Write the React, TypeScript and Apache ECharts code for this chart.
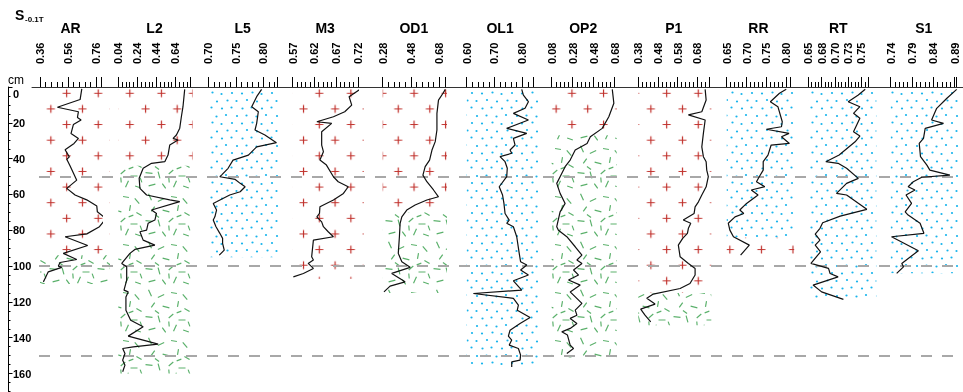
import React, { useEffect, useRef } from "react";
import * as echarts from "echarts";

// ---------- DATA ----------
const PANEL_NAMES = ["AR", "L2", "L5", "M3", "OD1", "OL1", "OP2", "P1", "RR", "RT", "S1"];

// axis ranges [min, max] and tick labels
const AR_RANGE = [0.36, 0.795];
const L2_RANGE = [0.04, 0.8];
const L5_RANGE = [0.7, 0.825];
const M3_RANGE = [0.57, 0.72];
const OD1_RANGE = [0.28, 0.72];
const OL1_RANGE = [0.6, 0.84];
const OP2_RANGE = [0.08, 0.68];
const P1_RANGE = [0.38, 0.74];
const RR_RANGE = [0.65, 0.81];
const RT_RANGE = [0.65, 0.7628];
const S1_RANGE = [0.74, 0.895];

const AR_TICKS = [0.36, 0.56, 0.76];
const L2_TICKS = [0.04, 0.24, 0.44, 0.64];
const L5_TICKS = [0.7, 0.75, 0.8];
const M3_TICKS = [0.57, 0.62, 0.67, 0.72];
const OD1_TICKS = [0.28, 0.48, 0.68];
const OL1_TICKS = [0.6, 0.7, 0.8];
const OP2_TICKS = [0.08, 0.28, 0.48, 0.68];
const P1_TICKS = [0.38, 0.48, 0.58, 0.68];
const RR_TICKS = [0.65, 0.7, 0.75, 0.8];
const RT_TICKS = [0.65, 0.675, 0.7, 0.725, 0.75];
const S1_TICKS = [0.74, 0.79, 0.84, 0.89];

const MINOR_STEPS = [0.04, 0.04, 0.01, 0.01, 0.04, 0.02, 0.04, 0.02, 0.01, 0.00625, 0.01];

const DEPTH_MAX = 170;
const DEPTH_TICKS = [0, 20, 40, 60, 80, 100, 120, 140, 160];
const DEPTH_MINOR_STEP = 5;
const DASHED_DEPTHS = [50, 100, 150];

// [depth (cm), value]
const AR_DATA = [[1, 0.658], [7, 0.646], [11.3, 0.484], [13.8, 0.634], [17, 0.627], [18.4, 0.653], [21, 0.598], [26, 0.581], [28.7, 0.634], [31.5, 0.603], [35, 0.539], [39, 0.569], [40.4, 0.551], [44, 0.574], [52, 0.622], [56.6, 0.551], [60.3, 0.61], [63, 0.693], [66.5, 0.765], [69.7, 0.769], [73.4, 0.831], [78, 0.784], [82, 0.694], [83.6, 0.539], [88.5, 0.7], [92.9, 0.526], [96.3, 0.622], [98, 0.503], [100, 0.491], [100.7, 0.515], [103.2, 0.419], [106.9, 0.396], [108.8, 0.384]];
const L2_DATA = [[1.3, 0.737], [11, 0.719], [16.6, 0.702], [23, 0.685], [26.8, 0.65], [28.7, 0.615], [29.6, 0.667], [32.4, 0.58], [38, 0.562], [41.7, 0.528], [42.6, 0.389], [45.4, 0.301], [51, 0.259], [56.6, 0.267], [60.3, 0.337], [63, 0.58], [64, 0.685], [68.7, 0.389], [70.6, 0.441], [74.3, 0.424], [76.1, 0.353], [79.9, 0.337], [80.8, 0.267], [85.5, 0.301], [88.3, 0.424], [90.7, 0.214], [92.9, 0.162], [98.5, 0.076], [100.4, 0.128], [107.8, 0.128], [113.4, 0.1], [114.4, 0.144], [117.2, 0.12], [124.6, 0.12], [130.2, 0.17], [133.9, 0.301], [139.1, 0.144], [143.6, 0.458], [145.1, 0.197], [146, 0.086], [148.8, 0.11], [152.5, 0.086], [155.3, 0.11], [159, 0.086]];
const L5_DATA = [[1.3, 0.797], [5.4, 0.788], [11, 0.779], [13.8, 0.791], [20.3, 0.788], [24, 0.785], [26.8, 0.803], [31.1, 0.824], [33.4, 0.788], [38, 0.773], [40.8, 0.745], [45.4, 0.736], [49.2, 0.724], [50.1, 0.721], [51.6, 0.749], [53.8, 0.758], [55.7, 0.767], [58.5, 0.758], [60.3, 0.739], [64.1, 0.715], [65, 0.709], [68.7, 0.715], [72.5, 0.712], [74.3, 0.709], [78, 0.714], [81.7, 0.721], [84.5, 0.726], [87.3, 0.726], [91.1, 0.729], [93.9, 0.72]];
const M3_DATA = [[1.3, 0.725], [5.4, 0.7], [10.1, 0.706], [13.8, 0.69], [16.6, 0.664], [19.4, 0.626], [20.3, 0.66], [25, 0.637], [32.4, 0.637], [36.1, 0.641], [40.8, 0.633], [43.6, 0.648], [50.1, 0.664], [52.9, 0.675], [55.7, 0.698], [59.4, 0.687], [63.1, 0.664], [66.9, 0.633], [70.6, 0.632], [72.5, 0.626], [75.3, 0.637], [78, 0.641], [80.8, 0.652], [83.6, 0.664], [85.5, 0.618], [94.8, 0.614], [96.6, 0.618], [98.5, 0.606], [101.3, 0.618], [104.1, 0.595], [106, 0.572]];
const OD1_DATA = [[1.3, 0.722], [3.5, 0.706], [7.3, 0.674], [14.7, 0.663], [24, 0.663], [30.5, 0.651], [35.2, 0.628], [40.8, 0.611], [44.5, 0.58], [49.2, 0.564], [52.9, 0.592], [57.5, 0.639], [61.3, 0.674], [63.1, 0.592], [65.9, 0.509], [68.7, 0.45], [72.5, 0.415], [76.1, 0.403], [83.6, 0.398], [92.9, 0.39], [97.6, 0.415], [100.7, 0.474], [104.1, 0.344], [108.8, 0.438], [111.2, 0.332], [114.4, 0.289]];
const OL1_DATA = [[1.3, 0.798], [4.5, 0.804], [8.2, 0.822], [11.9, 0.81], [14.7, 0.768], [18.4, 0.822], [23.1, 0.744], [25.9, 0.816], [28.7, 0.768], [32.4, 0.774], [35.2, 0.756], [37, 0.762], [38.9, 0.72], [41.7, 0.738], [45.4, 0.746], [50.1, 0.744], [55.7, 0.717], [60.3, 0.729], [65, 0.734], [70.6, 0.738], [74.3, 0.753], [76.1, 0.744], [78, 0.768], [83.6, 0.78], [92.9, 0.789], [97.6, 0.794], [99.4, 0.816], [102.2, 0.794], [105, 0.822], [108.2, 0.768], [113.4, 0.798], [115.3, 0.624], [118, 0.768], [121.8, 0.786], [124.6, 0.782], [128.7, 0.828], [132, 0.792], [135.8, 0.756], [139.1, 0.75], [141.3, 0.762], [144.1, 0.753], [146, 0.786], [149.7, 0.794], [152.5, 0.792], [153.5, 0.762], [156.3, 0.762]];
const OP2_DATA = [[1.3, 0.657], [9.1, 0.672], [16.6, 0.624], [23.1, 0.561], [27.8, 0.448], [31.5, 0.417], [35.2, 0.304], [40.8, 0.256], [44.5, 0.208], [50.1, 0.16], [53.8, 0.128], [59.4, 0.16], [65, 0.208], [69.7, 0.16], [78, 0.128], [80, 0.144], [83.6, 0.224], [89.2, 0.304], [93.9, 0.368], [96.6, 0.32], [98.5, 0.368], [102.2, 0.288], [105, 0.336], [107.8, 0.24], [110.6, 0.352], [114.4, 0.256], [120.8, 0.368], [124.6, 0.304], [127.4, 0.32], [129.2, 0.256], [132, 0.32], [134.8, 0.256], [136.7, 0.176], [138.5, 0.23], [144.1, 0.256], [146, 0.288], [148.8, 0.224]];
const P1_DATA = [[1.3, 0.719], [7.3, 0.724], [13.8, 0.702], [15.6, 0.634], [18.4, 0.719], [25.9, 0.71], [33.4, 0.702], [38.9, 0.71], [41.7, 0.724], [46.4, 0.727], [50.1, 0.735], [55.7, 0.724], [60.3, 0.702], [64.1, 0.685], [66.9, 0.668], [70.6, 0.663], [74.3, 0.608], [76.1, 0.646], [78.9, 0.634], [81.7, 0.629], [84.5, 0.605], [88.3, 0.583], [94.8, 0.592], [98.5, 0.634], [101.3, 0.668], [105, 0.668], [109.7, 0.642], [112.5, 0.592], [115.6, 0.456], [118, 0.423], [121.2, 0.465], [124, 0.392], [127.4, 0.414], [131.1, 0.443]];
const RR_DATA = [[1.3, 0.8], [3.5, 0.783], [8.2, 0.76], [11, 0.779], [19.4, 0.79], [22.2, 0.788], [23.6, 0.75], [25.9, 0.807], [27.8, 0.788], [31.5, 0.808], [32.4, 0.762], [38, 0.754], [41.7, 0.742], [46.4, 0.742], [50.1, 0.732], [52.9, 0.725], [55.7, 0.746], [57.5, 0.712], [60.3, 0.729], [65, 0.7], [68.7, 0.683], [70.6, 0.693], [72.5, 0.671], [76.1, 0.654], [79.9, 0.658], [83.6, 0.667], [88.3, 0.707], [93.9, 0.685]];
const RT_DATA = [[1.3, 0.757], [4.5, 0.744], [8.2, 0.725], [11, 0.747], [14.7, 0.735], [17.5, 0.747], [21.2, 0.741], [25, 0.735], [27.4, 0.747], [30.6, 0.738], [38, 0.708], [41.7, 0.683], [42.6, 0.706], [45.4, 0.722], [51, 0.744], [53.8, 0.722], [59.4, 0.703], [60.3, 0.722], [68.3, 0.76], [72.1, 0.71], [75.8, 0.677], [78.9, 0.672], [82.1, 0.663], [85.5, 0.672], [88.3, 0.663], [92, 0.673], [98.5, 0.655], [101.3, 0.688], [104.1, 0.691], [106, 0.706], [110.6, 0.659], [114.4, 0.675], [118.6, 0.716]];
const S1_DATA = [[1.3, 0.895], [6.3, 0.872], [11.9, 0.848], [18.4, 0.836], [20.3, 0.864], [23.1, 0.821], [28.7, 0.817], [31.5, 0.807], [38.9, 0.81], [43.6, 0.825], [46.4, 0.832], [49.2, 0.879], [50.4, 0.813], [52.9, 0.793], [55.7, 0.781], [57.5, 0.797], [60.3, 0.776], [65, 0.789], [69.7, 0.774], [71.5, 0.781], [76.1, 0.809], [81.7, 0.818], [83.6, 0.742], [91.4, 0.805], [98.5, 0.766], [100.4, 0.77], [104.1, 0.754]];

// lithology zones: [type, from depth, to depth]  (0 = plus, 1 = dashes, 2 = dots)
const AR_ZONES = [[0, 0, 94], [1, 94, 110]];
const L2_ZONES = [[0, 0, 44], [1, 44, 160]];
const L5_ZONES = [[2, 0, 95]];
const M3_ZONES = [[0, 0, 107]];
const OD1_ZONES = [[0, 0, 70], [1, 70, 115]];
const OL1_ZONES = [[2, 0, 157]];
const OP2_ZONES = [[0, 0, 27], [1, 27, 151]];
const P1_ZONES = [[0, 0, 115], [1, 115, 133]];
const RR_ZONES = [[2, 0, 84], [0, 84, 95]];
const RT_ZONES = [[2, 0, 119]];
const S1_ZONES = [[2, 0, 104]];

const RANGES = [AR_RANGE, L2_RANGE, L5_RANGE, M3_RANGE, OD1_RANGE, OL1_RANGE, OP2_RANGE, P1_RANGE, RR_RANGE, RT_RANGE, S1_RANGE];
const TICKS = [AR_TICKS, L2_TICKS, L5_TICKS, M3_TICKS, OD1_TICKS, OL1_TICKS, OP2_TICKS, P1_TICKS, RR_TICKS, RT_TICKS, S1_TICKS];
const DATAS = [AR_DATA, L2_DATA, L5_DATA, M3_DATA, OD1_DATA, OL1_DATA, OP2_DATA, P1_DATA, RR_DATA, RT_DATA, S1_DATA];
const ZONES = [AR_ZONES, L2_ZONES, L5_ZONES, M3_ZONES, OD1_ZONES, OL1_ZONES, OP2_ZONES, P1_ZONES, RR_ZONES, RT_ZONES, S1_ZONES];

// ---------- LAYOUT ----------
const PANEL_LEFT = [40, 118.3, 208.3, 292.5, 382.7, 466.7, 551.7, 638.3, 726.7, 808.3, 890.7];
const PANEL_WIDTH = [61, 72.4, 68.7, 65.3, 62.3, 66.7, 63, 71, 63.5, 60, 66];
const ZONE_EXT = [9, 2, 3, 6, 2, 5, 2, 2, 4, 8, 4];
const TOP = 87;
const PX_PER_CM = 1.791;
const FONT = "'Liberation Sans', Arial, sans-serif";

function svgUrl(w: number, h: number, body: string) {
  const s = `<svg xmlns="http://www.w3.org/2000/svg" width="${w}" height="${h}" viewBox="0 0 ${w} ${h}">${body}</svg>`;
  return "data:image/svg+xml;charset=utf-8," + encodeURIComponent(s);
}

function makePatterns() {
  const PW = 31.58, PH = 31.26;
  const centers = [[3.5, 30.78], [19.29, 15.15]];
  let d = "";
  centers.forEach(([cx, cy]) => {
    for (const i of [-1, 0, 1]) for (const j of [-1, 0, 1]) {
      const x = cx + i * PW, y = cy + j * PH;
      d += `M${(x - 4).toFixed(2)} ${y.toFixed(2)}H${(x + 4).toFixed(2)}M${x.toFixed(2)} ${(y - 4).toFixed(2)}V${(y + 4).toFixed(2)}`;
    }
  });
  const plus = { image: svgUrl(PW, PH, `<path d="${d}" stroke="#c0302b" stroke-width="1.2" fill="none"/>`), repeat: "repeat", imageWidth: PW, imageHeight: PH };

  const dashes = [
    [6, 5, 65, 7], [17, 8, -25, 7], [30, 5, 10, 6], [41, 9, 50, 7],
    [9, 17, -55, 6], [22, 19, 15, 7], [34, 16, -80, 6], [43, 22, 30, 6],
    [5, 29, 5, 7], [15, 31, 75, 7], [27, 28, -40, 6], [38, 32, 0, 7],
    [8, 41, -15, 7], [20, 42, 55, 6], [31, 40, -65, 7], [42, 43, 20, 6],
    [13, 24, 35, 5], [35, 24, -20, 5], [25, 36, 85, 5], [45, 36, 70, 5],
  ];
  let dd = "";
  dashes.forEach(([cx, cy, a, l]) => {
    const r = (a * Math.PI) / 180;
    const dx = (Math.cos(r) * l) / 2, dy = (Math.sin(r) * l) / 2;
    dd += `M${(cx - dx).toFixed(2)} ${(cy - dy).toFixed(2)}L${(cx + dx).toFixed(2)} ${(cy + dy).toFixed(2)}`;
  });
  const green = { image: svgUrl(48, 48, `<path d="${dd}" stroke="#3fa352" stroke-opacity="0.85" stroke-width="1.2" fill="none"/>`), repeat: "repeat", imageWidth: 48, imageHeight: 48 };

  const dots = [[2, 3.5], [12.5, 2.5], [21.5, 4], [32, 3], [7, 10], [17, 11.5], [27.5, 10.5], [36.5, 11], [2.5, 18.5], [11.5, 17.5], [22, 18.5], [31.5, 17.5], [6.5, 25.5], [16.5, 26.5], [26, 25], [37, 26]];
  const dotBody = dots.map(([x, y]) => `<circle cx="${x}" cy="${y}" r="1.1" fill="#17b4ec"/>`).join("");
  const dot = { image: svgUrl(40, 30, dotBody), repeat: "repeat", imageWidth: 40, imageHeight: 30 };
  return [plus, green, dot];
}

export default function App() {
  const ref = useRef<HTMLDivElement>(null);
  useEffect(() => {
    if (!ref.current) return;
    const chart = echarts.init(ref.current, null, { renderer: "svg" });
    const PATTERNS = makePatterns();
    const H = DEPTH_MAX * PX_PER_CM;
    const grids: any[] = [];
    const xAxes: any[] = [];
    const yAxes: any[] = [];
    const series: any[] = [];
    const fmt = (v: number) => (Math.round(v * 100 + 1e-6) / 100).toFixed(2);

    PANEL_NAMES.forEach((name, i) => {
      const [mn, mx] = RANGES[i];
      grids.push({ left: PANEL_LEFT[i], width: PANEL_WIDTH[i], top: TOP, height: H });
      xAxes.push({
        type: "value", gridIndex: i, position: "top", min: mn, max: mx, z: 10,
        name, nameLocation: "middle", nameGap: 47,
        nameTextStyle: { fontWeight: "bold", fontSize: 14, color: "#000", fontFamily: FONT },
        axisLine: { show: false }, splitLine: { show: false },
        axisTick: { show: true, length: 10, customValues: [...TICKS[i], mx], lineStyle: { color: "#000", width: 1 } },
        axisLabel: { show: true, customValues: TICKS[i], rotate: 90, margin: 23, formatter: fmt, fontWeight: "bold", fontSize: 11, color: "#000", fontFamily: FONT },
      });
      const minors: number[] = [];
      for (let v = mn; v <= mx + 1e-9; v += MINOR_STEPS[i]) minors.push(+v.toFixed(6));
      xAxes.push({
        type: "value", gridIndex: i, position: "top", min: mn, max: mx, z: 10,
        axisLine: { show: false }, splitLine: { show: false }, axisLabel: { show: false },
        axisTick: { show: true, length: 5, customValues: minors, lineStyle: { color: "#000", width: 1 } },
      });
      yAxes.push({ type: "value", gridIndex: i, inverse: true, min: 0, max: DEPTH_MAX, show: false });
      const ext = ZONE_EXT[i];
      series.push({
        type: "custom", xAxisIndex: 2 * i, yAxisIndex: i, z: 1, silent: true, clip: false,
        data: ZONES[i],
        renderItem: (params: any, api: any) => {
          const cs = params.coordSys;
          const y0 = api.coord([mn, api.value(1)])[1];
          const y1 = api.coord([mn, api.value(2)])[1];
          return { type: "rect", silent: true, shape: { x: cs.x, y: y0, width: cs.width + ext, height: y1 - y0 }, style: { fill: PATTERNS[api.value(0)] } };
        },
      });
      series.push({
        type: "line", xAxisIndex: 2 * i, yAxisIndex: i, z: 5, clip: false, silent: true,
        symbol: "none", smooth: false,
        lineStyle: { color: "#111", width: 1.2 },
        data: DATAS[i].map(([d, v]) => [v, d]),
      });
    });

    // left depth axis (major + minor ticks)
    const gY = grids.length;
    grids.push({ left: 8, width: 10, top: TOP, height: H });
    xAxes.push({ type: "value", gridIndex: gY, show: false });
    yAxes.push({
      type: "value", gridIndex: gY, inverse: true, min: 0, max: DEPTH_MAX, position: "left",
      axisLine: { show: true, lineStyle: { color: "#000", width: 1 } },
      axisTick: { show: true, inside: true, length: 4.5, customValues: DEPTH_TICKS, lineStyle: { color: "#000" } },
      splitLine: { show: false },
      axisLabel: {
        inside: true, margin: 5, customValues: DEPTH_TICKS, fontWeight: "bold", fontSize: 11, color: "#000", fontFamily: FONT,
        formatter: (v: number) => (v === 0 ? "{z|0}" : String(v)),
        rich: { z: { padding: [13, 0, 0, 0], fontWeight: "bold", fontSize: 11, color: "#000", fontFamily: FONT } },
      },
    });
    const depthMinors: number[] = [];
    for (let v = 0; v <= DEPTH_MAX; v += DEPTH_MINOR_STEP) depthMinors.push(v);
    yAxes.push({
      type: "value", gridIndex: gY, inverse: true, min: 0, max: DEPTH_MAX, position: "left",
      axisLine: { show: false }, splitLine: { show: false }, axisLabel: { show: false },
      axisTick: { show: true, inside: true, length: 2.5, customValues: depthMinors, lineStyle: { color: "#000" } },
    });

    // long top line
    const gA = grids.length;
    grids.push({ left: 32, right: 0, top: TOP, height: H });
    xAxes.push({ type: "value", gridIndex: gA, position: "top", min: 0, max: 1, z: 12, axisLine: { show: true, lineStyle: { color: "#333", width: 1 } }, axisTick: { show: false }, axisLabel: { show: false }, splitLine: { show: false } });
    yAxes.push({ type: "value", gridIndex: gA, show: false, min: 0, max: DEPTH_MAX, inverse: true });

    // dashed reference depths
    const gB = grids.length;
    grids.push({ left: 39, right: 0, top: TOP, height: H });
    xAxes.push({ type: "value", gridIndex: gB, show: false, min: 0, max: 1 });
    yAxes.push({ type: "value", gridIndex: gB, show: false, min: 0, max: DEPTH_MAX, inverse: true });
    series.push({
      type: "line", xAxisIndex: xAxes.length - 1, yAxisIndex: yAxes.length - 1, z: 3, silent: true,
      symbol: "none", lineStyle: { opacity: 0 }, data: [[0, 0]],
      markLine: {
        silent: true, symbol: ["none", "none"], label: { show: false },
        lineStyle: { color: "#a8a8a8", width: 2, type: [11, 10] },
        emphasis: { disabled: true },
        data: DASHED_DEPTHS.map((d) => ({ yAxis: d })),
      },
    });

    chart.setOption({
      animation: false,
      grid: grids,
      xAxis: xAxes,
      yAxis: yAxes,
      series,
      graphic: [
        { type: "text", x: 15, y: 15, style: { text: "S", fontSize: 14, fontWeight: "bold", fontFamily: FONT, fill: "#000", verticalAlign: "middle" } },
        { type: "text", x: 25, y: 19.5, style: { text: "-0.1T", fontSize: 8, fontWeight: "bold", fontFamily: FONT, fill: "#000", verticalAlign: "middle" } },
        { type: "text", x: 8, y: 80, style: { text: "cm", fontSize: 12, fontFamily: FONT, fill: "#000", verticalAlign: "middle" } },
      ],
    });
    return () => chart.dispose();
  }, []);
  return <div ref={ref} style={{ position: "fixed", left: 0, top: 0, width: 963, height: 392 }} />;
}
